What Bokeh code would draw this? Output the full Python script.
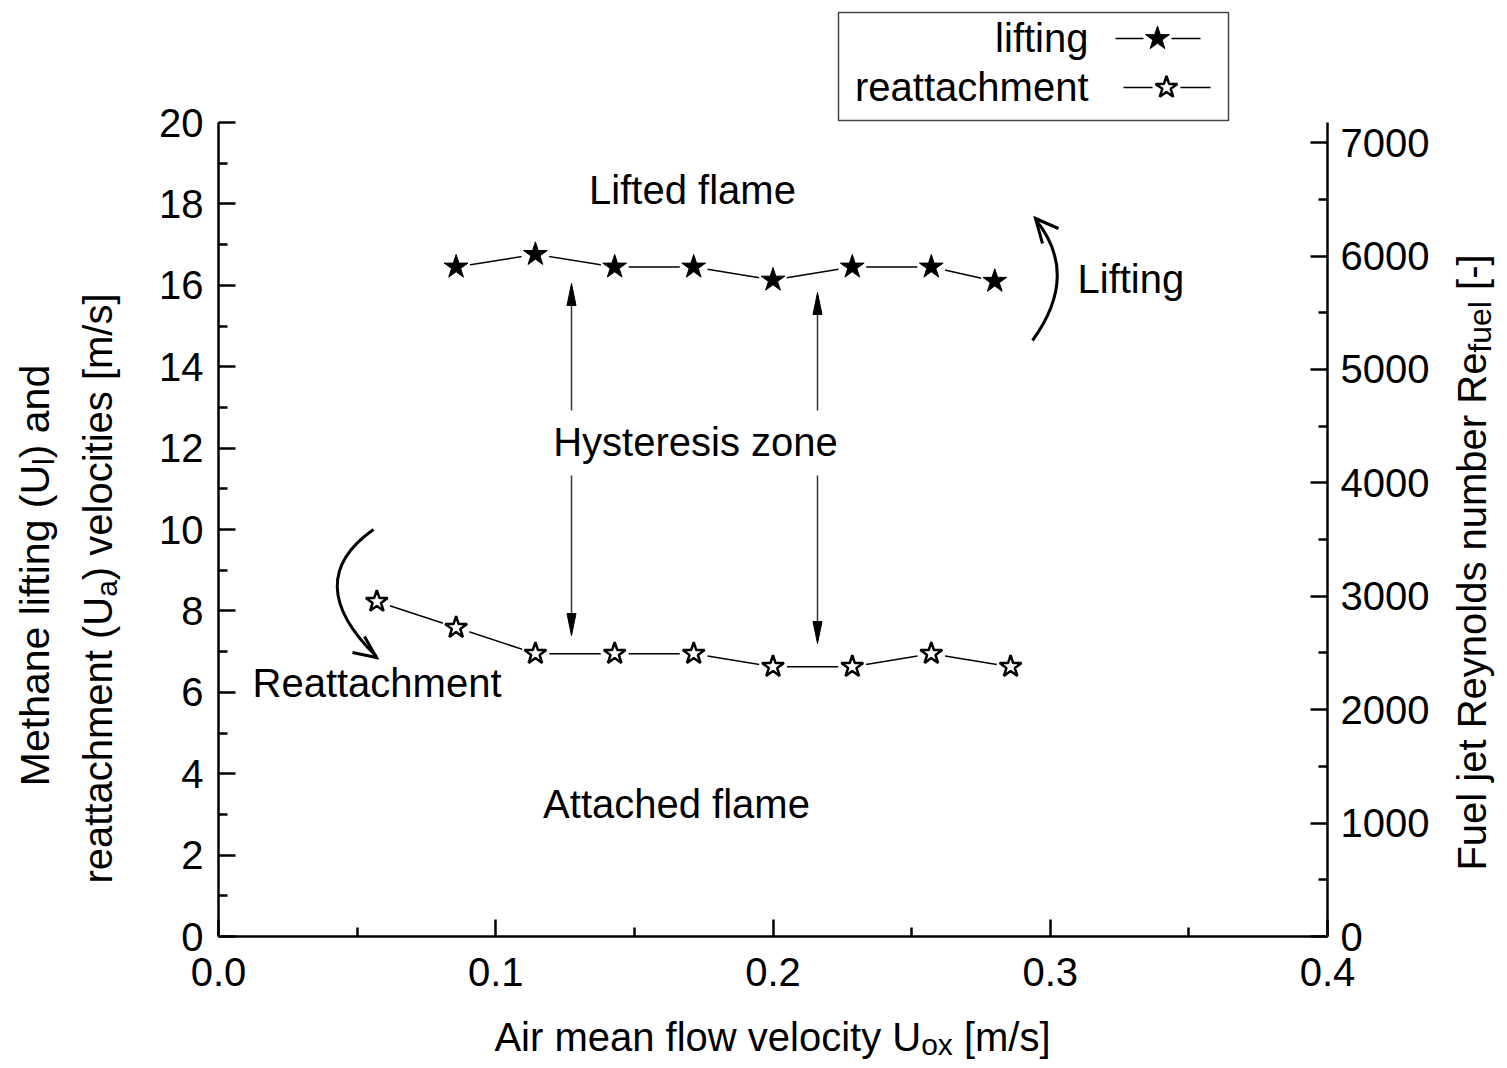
import math
from bokeh.plotting import figure
from bokeh.models import Range1d, LinearAxis, FixedTicker, Label, PrintfTickFormatter
from bokeh.embed import file_html
from bokeh.resources import INLINE

# ---------------- data ----------------
lift_x = [0.0857, 0.1143, 0.1429, 0.1714, 0.2000, 0.2286, 0.2571, 0.2800]
lift_u = [16.45, 16.76, 16.45, 16.45, 16.13, 16.45, 16.45, 16.10]
reat_x = [0.0571, 0.0857, 0.1143, 0.1429, 0.1714, 0.2000, 0.2286, 0.2571, 0.2857]
reat_u = [8.23, 7.59, 6.95, 6.95, 6.95, 6.63, 6.63, 6.95, 6.63]

x_ticks = [0.0, 0.1, 0.2, 0.3, 0.4]
x_minor = [0.05, 0.15, 0.25, 0.35]
y_ticks = [0, 2, 4, 6, 8, 10, 12, 14, 16, 18, 20]
y_minor = [1, 3, 5, 7, 9, 11, 13, 15, 17, 19]
re_ticks = [0, 1000, 2000, 3000, 4000, 5000, 6000, 7000]
re_minor = [500, 1500, 2500, 3500, 4500, 5500, 6500]
RE_PER_U = 358.9   # Reynolds number per m/s of fuel velocity

# ---------------- geometry (canvas px) ----------------
FL, FR, FB, Y20 = 218, 1327, 936, 122
XMAX, YTOP = 0.4, 20.0
W, H = 1499, 1060
BASE_FIX = 15   # empirical shift of alphabetic baseline


def X(px):
    return (px - FL) / (FR - FL) * XMAX


def Y(py):
    return (FB - py) / (FB - Y20) * YTOP


FONT = "Liberation Sans"

p = figure(width=W, height=H, x_range=Range1d(X(0), X(W)), y_range=Range1d(Y(H), Y(0)),
           output_backend="svg", toolbar_location=None,
           x_axis_location=None, y_axis_location=None,
           min_border_left=0, min_border_right=0, min_border_bottom=0, min_border_top=0)
p.outline_line_color = None
p.grid.grid_line_color = None
p.background_fill_color = "white"
p.border_fill_color = "white"


def style(ax, standoff):
    ax.axis_line_width = 2.5
    ax.axis_line_color = "black"
    ax.major_tick_in = 17
    ax.major_tick_out = 0
    ax.minor_tick_in = 9
    ax.minor_tick_out = 0
    ax.major_tick_line_width = 2.5
    ax.minor_tick_line_width = 2.5
    ax.major_tick_line_color = "black"
    ax.minor_tick_line_color = "black"
    ax.major_label_text_font = FONT
    ax.major_label_text_font_size = "40px"
    ax.major_label_text_color = "black"
    ax.major_label_standoff = standoff


xa = LinearAxis(ticker=FixedTicker(ticks=x_ticks, minor_ticks=x_minor),
                formatter=PrintfTickFormatter(format="%.1f"),
                bounds=(0, XMAX), fixed_location=0)
style(xa, 21)
p.add_layout(xa, "below")

ya = LinearAxis(ticker=FixedTicker(ticks=y_ticks, minor_ticks=y_minor),
                bounds=(0, YTOP), fixed_location=0)
style(ya, 15)
p.add_layout(ya, "left")

p.extra_y_ranges = {"re": Range1d(Y(H) * RE_PER_U, Y(0) * RE_PER_U)}
ra = LinearAxis(y_range_name="re", ticker=FixedTicker(ticks=re_ticks, minor_ticks=re_minor),
                bounds=(0, YTOP * RE_PER_U), fixed_location=XMAX)
style(ra, 13)
p.add_layout(ra, "right")

# ---------------- legend box (drawn first) ----------------
p.quad(left=[X(838)], right=[X(1228)], top=[Y(12)], bottom=[Y(120)],
       fill_color="white", line_color="#444444", line_width=1.5)

# ---------------- data series ----------------
p.line(lift_x, lift_u, line_color="black", line_width=1.5)
p.line(reat_x, reat_u, line_color="black", line_width=1.5)
p.scatter(lift_x, lift_u, marker="circle", size=28, fill_color="white", line_color=None)
p.scatter(reat_x, reat_u, marker="circle", size=28, fill_color="white", line_color=None)
p.scatter(lift_x, lift_u, marker="star", size=25, fill_color="black", line_color="black", line_width=1)
p.scatter(reat_x, reat_u, marker="star", size=23, fill_color="white", line_color="black", line_width=2.5)

# legend samples
p.line([X(1115), X(1200)], [Y(38), Y(38)], line_color="black", line_width=1.5)
p.line([X(1123), X(1210)], [Y(87), Y(87)], line_color="black", line_width=1.5)
p.scatter([X(1157)], [Y(38)], marker="circle", size=28, fill_color="white", line_color=None)
p.scatter([X(1166)], [Y(87)], marker="circle", size=28, fill_color="white", line_color=None)
p.scatter([X(1157)], [Y(38)], marker="star", size=25, fill_color="black", line_color="black")
p.scatter([X(1166)], [Y(87)], marker="star", size=23, fill_color="white", line_color="black", line_width=2.5)


def label(text, px, py, size=40, align="left", angle=0.0):
    if angle == 0.0:
        py = py - BASE_FIX
    else:
        px = px - BASE_FIX
    p.add_layout(Label(x=X(px), y=Y(py), text=text, text_font=FONT,
                       text_font_size=f"{size}px", text_color="black",
                       text_align=align, text_baseline="alphabetic", angle=angle))


label("lifting", 1088, 52, align="right")
label("reattachment", 1088, 101, align="right")

# ---------------- annotations ----------------
label("Lifted flame", 692, 204, align="center")
label("Lifting", 1077, 293)
label("Hysteresis zone", 695, 456, align="center")
label("Reattachment", 252, 697)
label("Attached flame", 676, 818, align="center")


def head(tip, back, length=22, width=9):
    dx, dy = tip[0] - back[0], tip[1] - back[1]
    n = math.hypot(dx, dy)
    ux, uy = dx / n, dy / n
    bx, by = tip[0] - ux * length, tip[1] - uy * length
    nx, ny = -uy, ux
    pts = [tip, (bx + nx * width / 2, by + ny * width / 2), (bx - nx * width / 2, by - ny * width / 2)]
    return [X(a) for a, b in pts], [Y(b) for a, b in pts]


arrows = [((571, 410), (571, 283)), ((571, 475), (571, 635)),
          ((817, 410), (817, 292)), ((817, 475), (817, 643))]
hx, hy = [], []
for (s, t) in arrows:
    p.line([X(s[0]), X(t[0])], [Y(s[1]), Y(t[1]) + (-0.3 if t[1] < s[1] else 0.3)],
           line_color="#333333", line_width=1.5)
    a, b = head(t, s)
    hx.append(a)
    hy.append(b)
p.patches(hx, hy, fill_color="black", line_color="black", line_width=1)

# curved arrows
p.quadratic(x0=[X(1032), X(373)], y0=[Y(340), Y(529)],
            x1=[X(1035), X(376)], y1=[Y(219), Y(656)],
            cx=[X(1080), X(299)], cy=[Y(274), Y(581)],
            line_color="black", line_width=3)
p.multi_line([[X(1042), X(1035), X(1058)], [X(352), X(376), X(364)]],
             [[Y(243), Y(218), Y(228)], [Y(652), Y(657), Y(636)]],
             line_color="black", line_width=3, line_join="miter")

# ---------------- axis titles with subscripts ----------------
NB = "\u00a0"
WID = {' ': 278, NB: 278, 'a': 556, 'b': 556, 'c': 500, 'd': 556, 'e': 556, 'f': 278, 'g': 556,
       'h': 556, 'i': 222, 'j': 222, 'k': 500, 'l': 222, 'm': 833, 'n': 556, 'o': 556,
       'p': 556, 'r': 333, 's': 500, 't': 278, 'u': 556, 'v': 500, 'w': 722, 'x': 500,
       'y': 500, 'z': 500, 'M': 833, 'U': 722, 'R': 722, 'F': 611, 'A': 667, '(': 333,
       ')': 333, '[': 278, ']': 278, '/': 278, '-': 333}


def tw(s, size):
    return sum(WID.get(c, 556) for c in s) / 1000.0 * size


def rich(pieces, cx, cy, rotated=False):
    total = sum(tw(t, s) for t, s, d in pieces)
    off = -total / 2
    for t, s, d in pieces:
        if rotated:
            label(t, cx + d, cy - off, size=s, angle=math.pi / 2)
        else:
            label(t, cx + off, cy + d, size=s)
        off += tw(t, s)


rich([("Air mean flow velocity U", 40, 0), ("ox", 30, 8), (NB + "[m/s]", 40, 0)], 772, 1051)
rich([("Methane lifting (U", 41, 0), ("l", 30, 9), (")" + NB + "and", 41, 0)], 49, 575, rotated=True)
rich([("reattachment (U", 40, 0), ("a", 30, 9), (")" + NB + "velocities [m/s]", 40, 0)], 112, 588, rotated=True)
rich([("Fuel jet Reynolds number Re", 40, 0), ("fuel", 32, 8), (NB + "[-]", 40, 0)], 1486, 562, rotated=True)

open("out.html", "w").write(file_html(p, INLINE))
